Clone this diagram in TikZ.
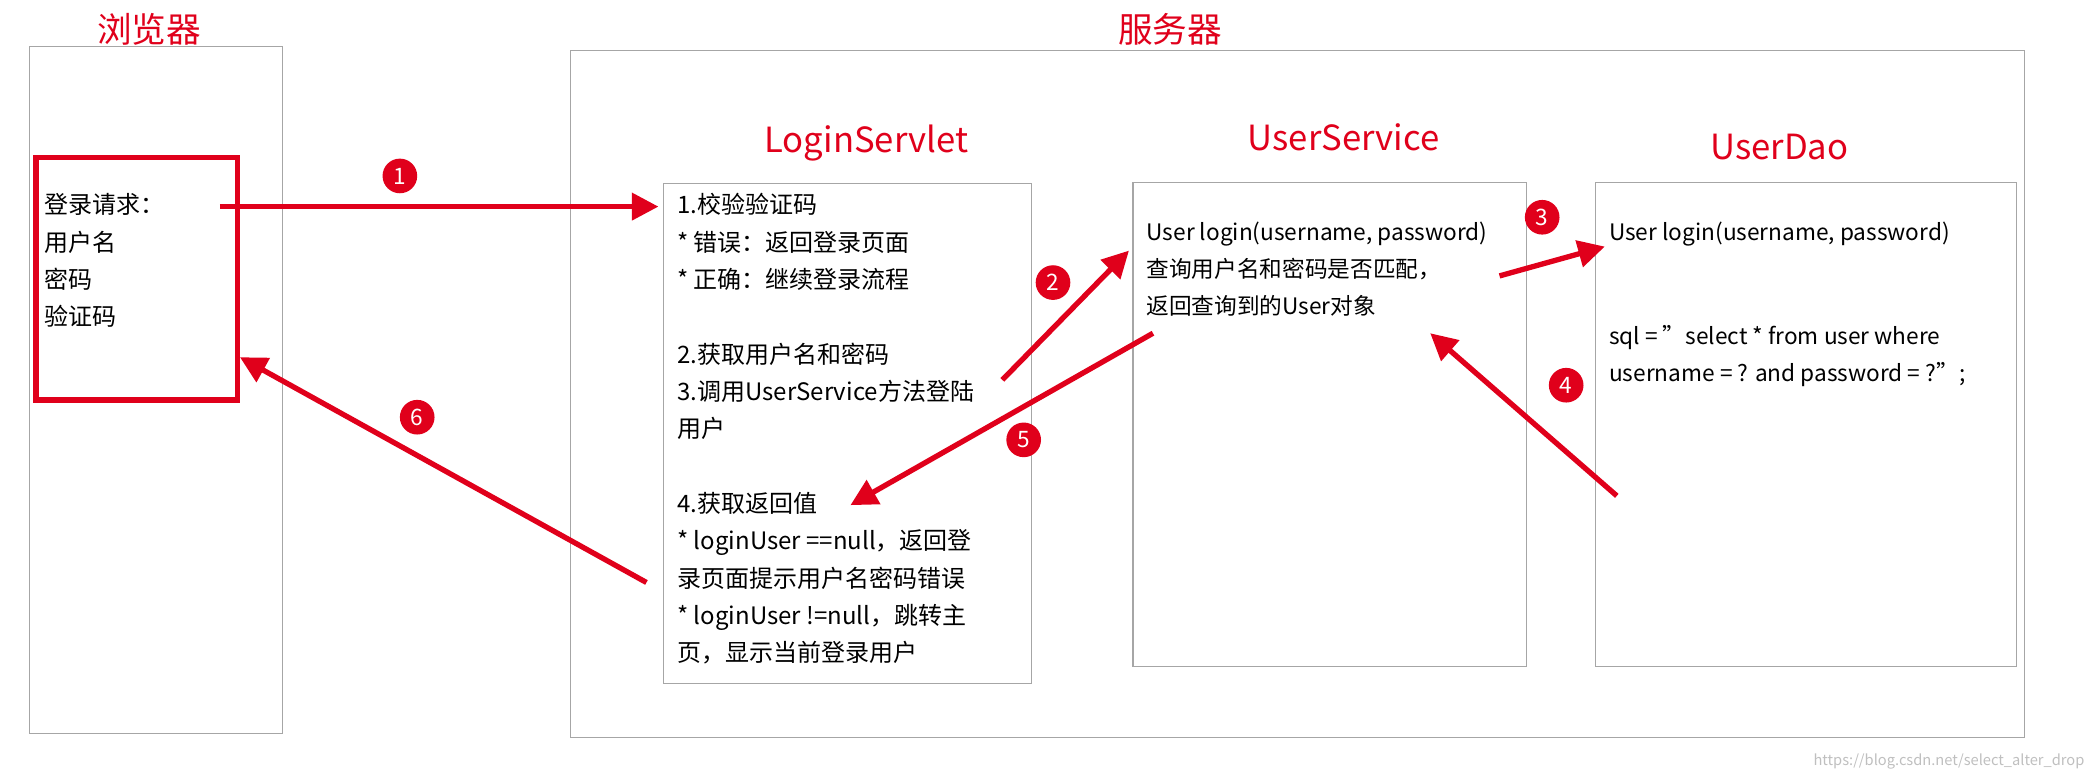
\documentclass[tikz,border=0pt]{standalone}
\usepackage{fontspec}
\setmainfont{Noto Sans CJK SC}
\usetikzlibrary{arrows.meta}
\definecolor{cred}{HTML}{E0001B}
\begin{document}
\begin{tikzpicture}[x=1pt,y=-1pt,
  frame/.style={draw=black!35,line width=0.8pt},
  ttl/.style={text=cred,font=\fontsize{26}{30}\selectfont,inner sep=0},
  txt/.style={anchor=north west,align=left,inner sep=0,font=\fontsize{18}{28}\selectfont},
  flow/.style={draw=cred,line width=4pt,-{Triangle[length=20pt,width=20pt]}},
  badge/.style={circle,fill=cred,text=white,minimum size=26pt,inner sep=0,font=\fontsize{17}{17}\selectfont}]
\useasboundingbox (0,0) rectangle (1568,585);
% browser
\draw[frame] (22,35) rectangle (212,550);
\node[ttl] (tb) at (112,22) {浏览器};
\draw[draw=cred,line width=4pt] (27,118) rectangle (178,300);
\node[txt] (req) at (33,145) {登录请求：\\用户名\\密码\\验证码};
% server
\draw[frame] (428,38) rectangle (1519,553);
\node[ttl] (ts) at (878,22) {服务器};
\node[ttl] (tl) at (650,107) {LoginServlet};
\draw[frame] (498,138) rectangle (774,513);
\node[txt] (ls) at (508,145) {1.校验验证码\\* 错误：返回登录页面\\* 正确：继续登录流程\\[28pt]2.获取用户名和密码\\3.调用UserService方法登陆\\用户\\[28pt]4.获取返回值\\* loginUser ==null，返回登\\录页面提示用户名密码错误\\* loginUser !=null，跳转主\\页，显示当前登录用户};
\node[ttl] (tu) at (1008,103) {UserService};
\draw[frame] (850,137) rectangle (1145,500);
\node[txt,font=\fontsize{17}{28}\selectfont] (us) at (860,166) {User login(username, password)\\查询用户名和密码是否匹配，\\返回查询到的User对象};
\node[ttl] (td) at (1335,110) {UserDao};
\draw[frame] (1197,137) rectangle (1513,500);
\node[txt,font=\fontsize{17}{28}\selectfont] (ud) at (1207,166) {User login(username, password)};
\node[txt,font=\fontsize{17}{28}\selectfont] (sql) at (1207,244) {sql = "select * from user where\\username = ? and password = ?";};
% arrows
\coordinate (a1s) at (165,155); \coordinate (a1e) at (494,155);
\coordinate (a2s) at (752,285); \coordinate (a2e) at (847,188);
\coordinate (a3s) at (1125,207); \coordinate (a3e) at (1204,185);
\coordinate (a4s) at (1213,372); \coordinate (a4e) at (1073,250);
\coordinate (a5s) at (865,250); \coordinate (a5e) at (638,379);
\coordinate (a6s) at (485,437); \coordinate (a6e) at (180,268);
\draw[flow] (a1s) -- (a1e);
\draw[flow] (a2s) -- (a2e);
\draw[flow] (a3s) -- (a3e);
\draw[flow] (a4s) -- (a4e);
\draw[flow] (a5s) -- (a5e);
\draw[flow] (a6s) -- (a6e);
\node[badge] (b1) at (300,132) {1};
\node[badge] (b2) at (790,212) {2};
\node[badge] (b3) at (1157,163) {3};
\node[badge] (b4) at (1175,289) {4};
\node[badge] (b5) at (768,330) {5};
\node[badge] (b6) at (313,313) {6};
\node[text=black!25,font=\fontsize{11}{11}\selectfont,anchor=east,inner sep=0] (wm) at (1564,571) {https://blog.csdn.net/select\_alter\_drop};
\end{tikzpicture}
\end{document}
